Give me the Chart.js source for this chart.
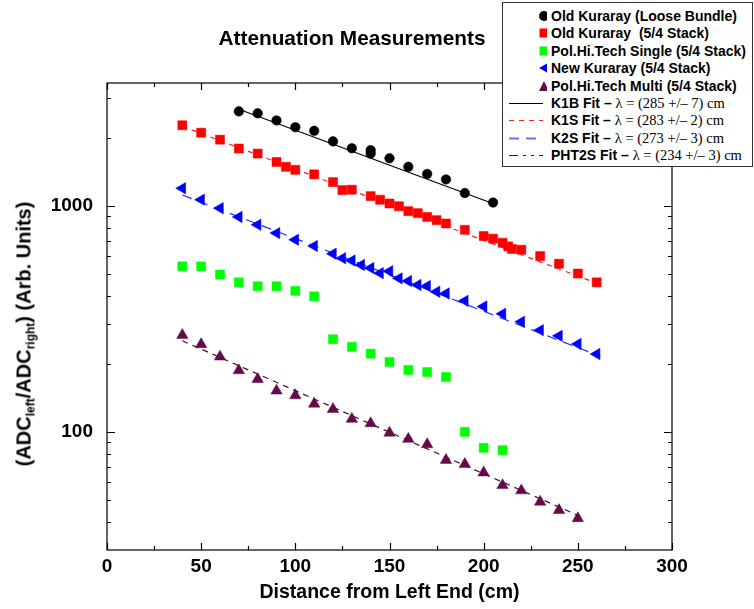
<!DOCTYPE html>
<html>
<head>
<meta charset="utf-8">
<script src="https://cdn.jsdelivr.net/npm/chart.js@4.4.1/dist/chart.umd.min.js"></script>
<style>
  body { margin: 0; background: #fff; }
  #wrap { position: relative; width: 754px; height: 609px; font-family: 'Liberation Sans', Arial, sans-serif; }
  #title { position: absolute; left: 352px; top: 38px; transform: translate(-50%, -50%);
           font-weight: bold; font-size: 20.8px; white-space: nowrap; color: #000; }
  #ytitle { position: absolute; left: 25px; top: 334px; transform: translate(-50%, -50%) rotate(-90deg);
            font-weight: bold; font-size: 20px; white-space: nowrap; color: #000; }
  #ytitle sub { font-size: 12px; vertical-align: -4px; }
  #legend { position: absolute; left: 502px; top: 2px; width: 251px; height: 165px; box-sizing: border-box;
            border: 1.5px solid #333; background: #fff; }
  .row { position: absolute; left: 0; height: 18px; line-height: 18px; white-space: pre;
         font-weight: bold; font-size: 14px; color: #000; }
  .row svg { position: absolute; left: 4px; top: 0; }
  .row span.t { position: absolute; left: 48px; top: 0; }
  .serif { font-family: 'Liberation Serif', 'Times New Roman', serif; font-weight: normal; font-size: 14.5px; }
</style>
</head>
<body>
<div id="wrap">
  <canvas id="chart" width="754" height="609"></canvas>
  <div id="title">Attenuation Measurements</div>
  <div id="ytitle">(ADC<sub>left</sub>/ADC<sub>right</sub>) (Arb. Units)</div>
  <div id="legend">
    <div class="row" style="top:4px"><svg width="40" height="18"><circle cx="37" cy="9" r="5" fill="#000"/></svg><span class="t">Old Kuraray (Loose Bundle)</span></div>
    <div class="row" style="top:21.4px"><svg width="40" height="18"><rect x="32.5" y="4.5" width="9" height="9" fill="#ff0000"/></svg><span class="t">Old Kuraray  (5/4 Stack)</span></div>
    <div class="row" style="top:38.8px"><svg width="40" height="18"><rect x="32.5" y="4.5" width="9" height="9" fill="#00ff00"/></svg><span class="t">Pol.Hi.Tech Single (5/4 Stack)</span></div>
    <div class="row" style="top:56.2px"><svg width="40" height="18"><polygon points="32,9 41,4 41,14" fill="#0000ff"/></svg><span class="t">New Kuraray (5/4 Stack)</span></div>
    <div class="row" style="top:73.6px"><svg width="40" height="18"><polygon points="37,4 42,14 32,14" fill="#650a48"/></svg><span class="t">Pol.Hi.Tech Multi (5/4 Stack)</span></div>
    <div class="row" style="top:91px"><svg width="40" height="18"><line x1="2" y1="9.5" x2="36" y2="9.5" stroke="#000" stroke-width="1.2"/></svg><span class="t">K1B Fit – <span class="serif">λ = (285 +/– 7) cm</span></span></div>
    <div class="row" style="top:108.4px"><svg width="40" height="18"><line x1="2" y1="9.5" x2="36" y2="9.5" stroke="#ff2020" stroke-width="1.2" stroke-dasharray="5,5"/></svg><span class="t">K1S Fit – <span class="serif">λ = (283 +/– 2) cm</span></span></div>
    <div class="row" style="top:125.8px"><svg width="40" height="18"><line x1="2" y1="9.5" x2="36" y2="9.5" stroke="#7070ff" stroke-width="2" stroke-dasharray="10,7"/></svg><span class="t">K2S Fit – <span class="serif">λ = (273 +/– 3) cm</span></span></div>
    <div class="row" style="top:143.2px"><svg width="40" height="18"><line x1="2" y1="9.5" x2="36" y2="9.5" stroke="#4a0a35" stroke-width="1.2" stroke-dasharray="9,5,3,5,3,5"/></svg><span class="t">PHT2S Fit – <span class="serif">λ = (234 +/– 3) cm</span></span></div>
  </div>
</div>
<script>
// Old Kuraray (Loose Bundle)
const k1bX = [70, 80, 90, 100, 110, 120, 130, 140, 140, 150, 160, 170, 180, 190, 205];
const k1bY = [2620, 2570, 2390, 2230, 2150, 1930, 1800, 1765, 1705, 1625, 1490, 1385, 1310, 1140, 1035];

// Old Kuraray (5/4 Stack)
const k1sX = [40, 50, 60, 70, 80, 90, 95, 100, 110, 120, 125, 130, 140, 145, 150, 155, 160, 165, 170, 175,
              180, 190, 200, 205, 210, 213, 215, 220, 230, 240, 250, 260];
const k1sY = [2275, 2110, 1965, 1795, 1705, 1565, 1490, 1445, 1380, 1275, 1175, 1180, 1105, 1065, 1025, 997,
              948, 929, 894, 865, 836, 784, 736, 716, 687, 662, 645, 640, 600, 555, 502, 459];

// Pol.Hi.Tech Single (5/4 Stack)
const pht1X = [40, 50, 60, 70, 80, 90, 100, 110, 120, 130, 140, 150, 160, 170, 180, 190, 200, 210];
const pht1Y = [540, 540, 497, 459, 441, 441, 421, 398, 257, 238, 222, 204, 188, 184, 175, 100, 85, 83];

// New Kuraray (5/4 Stack)
const k2sX = [40, 50, 60, 70, 80, 90, 100, 110, 120, 125, 130, 135, 140, 145, 150, 155, 160, 165, 170, 175,
              180, 190, 200, 210, 220, 230, 240, 250, 260];
const k2sY = [1197, 1066, 977, 894, 825, 758, 708, 665, 614, 587, 573, 548, 531, 504, 514, 478, 465, 447, 442,
              417, 410, 380, 359, 333, 307, 282, 266, 245, 221];

// Pol.Hi.Tech Multi (5/4 Stack)
const pht2X = [40, 50, 60, 70, 80, 90, 100, 110, 120, 130, 140, 150, 160, 170, 180, 190, 200, 210, 220, 230, 240, 250];
const pht2Y = [268, 244, 215, 187, 171, 152, 145, 133, 126, 114, 109, 99, 93, 88, 75, 72, 66, 58, 55, 49, 45, 41.4];

// fit lines (end points)
const k1bFitX = [70, 207];   const k1bFitY = [2680, 1010];
const k1sFitX = [40, 260];   const k1sFitY = [2250, 455];
const k2sFitX = [40, 262];   const k2sFitY = [1118, 216];
const pht2FitX = [40, 252];  const pht2FitY = [253, 42];

// axis ticks
const xMajorTicks = [0, 50, 100, 150, 200, 250, 300];
const xMinorTicks = [25, 75, 125, 175, 225, 275];
const yLabelTicks = [100, 1000];
const yMinorTicks = [40, 50, 60, 70, 80, 90, 200, 300, 400, 500, 600, 700, 800, 900, 2000, 3000];

const pts = (xs, ys) => xs.map((x, i) => ({ x: x, y: ys[i] }));

function markers(label, xs, ys, color, style, radius, rot) {
  return {
    label: label,
    data: pts(xs, ys),
    showLine: false,
    pointStyle: style,
    pointRadius: radius,
    pointRotation: rot || 0,
    backgroundColor: color,
    borderColor: color,
    borderWidth: 0.5
  };
}

function fitLine(label, xs, ys, color, dash) {
  return {
    label: label,
    data: pts(xs, ys),
    showLine: true,
    pointRadius: 0,
    borderColor: color,
    borderWidth: 1.2,
    borderDash: dash,
    fill: false
  };
}

// draws the box round the plot with inward ticks on all four sides
const framePlugin = {
  id: 'frame',
  afterDatasetsDraw(chart) {
    const { ctx, chartArea: a, scales: { x, y } } = chart;
    ctx.save();
    ctx.strokeStyle = '#000';
    ctx.lineWidth = 1.2;
    ctx.strokeRect(a.left, a.top, a.right - a.left, a.bottom - a.top);
    ctx.beginPath();
    const xt = (v, len) => {
      const p = Math.round(x.getPixelForValue(v)) + 0.5;
      ctx.moveTo(p, a.bottom); ctx.lineTo(p, a.bottom - len);
      ctx.moveTo(p, a.top); ctx.lineTo(p, a.top + len);
    };
    const yt = (v, len) => {
      const p = Math.round(y.getPixelForValue(v)) + 0.5;
      ctx.moveTo(a.left, p); ctx.lineTo(a.left + len, p);
      ctx.moveTo(a.right, p); ctx.lineTo(a.right - len, p);
    };
    xMajorTicks.forEach(v => xt(v, 7));
    xMinorTicks.forEach(v => xt(v, 4));
    yLabelTicks.forEach(v => yt(v, 8));
    yMinorTicks.forEach(v => yt(v, 4));
    ctx.stroke();
    ctx.restore();
  }
};

Chart.defaults.font.family = "'Liberation Sans', Arial, sans-serif";
Chart.defaults.color = '#000';

new Chart(document.getElementById('chart').getContext('2d'), {
  type: 'scatter',
  data: {
    datasets: [
      markers('Old Kuraray (Loose Bundle)', k1bX, k1bY, '#000000', 'circle', 4.8),
      markers('Old Kuraray  (5/4 Stack)', k1sX, k1sY, '#ff0000', 'rect', 6.4),
      markers('Pol.Hi.Tech Single (5/4 Stack)', pht1X, pht1Y, '#00ff00', 'rect', 6.4),
      markers('New Kuraray (5/4 Stack)', k2sX, k2sY, '#0000ff', 'triangle', 6.6, -90),
      markers('Pol.Hi.Tech Multi (5/4 Stack)', pht2X, pht2Y, '#650a48', 'triangle', 6.6),
      fitLine('K1B Fit', k1bFitX, k1bFitY, '#000000', []),
      fitLine('K1S Fit', k1sFitX, k1sFitY, '#ff2020', [5, 5]),
      fitLine('K2S Fit', k2sFitX, k2sFitY, '#2030ff', [10, 7]),
      fitLine('PHT2S Fit', pht2FitX, pht2FitY, '#4a0a35', [6, 5])
    ]
  },
  options: {
    responsive: false,
    animation: false,
    devicePixelRatio: 1,
    layout: { padding: { left: 0, right: 82, top: 83, bottom: 0 } },
    plugins: {
      legend: { display: false },
      title: { display: false },
      tooltip: { enabled: false }
    },
    scales: {
      x: {
        type: 'linear',
        min: 0,
        max: 300,
        grid: { display: false, drawTicks: false },
        border: { display: false },
        afterBuildTicks: s => { s.ticks = xMajorTicks.map(v => ({ value: v })); },
        afterFit: s => { s.height = 59; },
        ticks: { font: { size: 19, weight: 'bold' }, padding: 5, maxRotation: 0, autoSkip: false,
                 callback: v => String(v) },
        title: { display: true, text: 'Distance from Left End (cm)', font: { size: 19.5, weight: 'bold' },
                 padding: { top: 0, bottom: 5 } }
      },
      y: {
        type: 'logarithmic',
        min: 30,
        max: 3500,
        grid: { display: false, drawTicks: false },
        border: { display: false },
        afterBuildTicks: s => { s.ticks = yLabelTicks.map(v => ({ value: v })); },
        afterFit: s => { s.width = 107; },
        ticks: { font: { size: 19, weight: 'bold' }, padding: 14, autoSkip: false,
                 callback: v => String(v) }
      }
    }
  },
  plugins: [framePlugin]
});
</script>
</body>
</html>
